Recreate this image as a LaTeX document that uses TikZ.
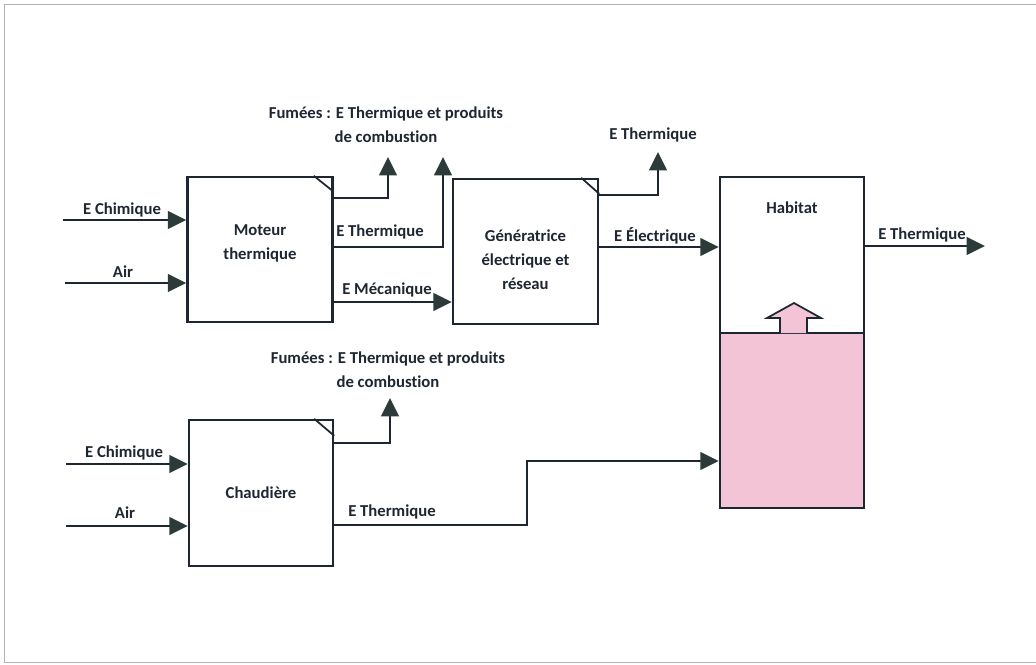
\documentclass[tikz,border=0pt]{standalone}
\usepackage{fontspec}
\setmainfont{Carlito}[Ligatures=NoCommon]
\usetikzlibrary{arrows.meta,calc}
\definecolor{ln}{HTML}{1E2632}
\definecolor{ah}{HTML}{2C3A3A}
\definecolor{pk}{HTML}{F2C4D6}
\definecolor{fr}{HTML}{B4B4B4}
\tikzset{
 box/.style={draw=ln, line width=1.4pt, minimum width=2.9cm, minimum height=2.9cm, inner sep=0pt},
 arr/.style={draw=ln, line width=1.4pt, -{Triangle[length=10.5pt,width=10pt,fill=ah,color=ah]}},
 lbl/.style={font=\bfseries\fontsize{9.5}{13.6}\selectfont, inner sep=0pt, text=ln, align=center},
 fold/.style={draw=ln, line width=1pt},
}
\begin{document}
\begin{tikzpicture}[x=0.02cm,y=-0.02cm]
\useasboundingbox (0,0) rectangle (1036,664);
\draw[fr, line width=0.5pt] (1036,4) -- (4,4) -- (4,662) -- (1036,662);

% boxes
\node[box] (mot) at (260,249.5) {};
\node[box] (gen) at (525.5,251.5) {};
\node[box, minimum width=2.88cm, minimum height=2.92cm] (ch) at (261,493) {};
\node[box, fill=pk, minimum width=2.88cm, minimum height=3.5cm] (hb) at (792,420.5) {};
\node[box, minimum width=2.88cm, minimum height=3.12cm] (hab) at (792,255) {};

% folded corners
\draw[fold] ($(mot.north east)+(-20,0)$) -- ($(mot.north east)+(0,16)$);
\draw[fold] ($(gen.north east)+(-18,0)$) -- ($(gen.north east)+(0,16)$);
\draw[fold] ($(ch.north east)+(-20,0)$) -- ($(ch.north east)+(0,17)$);

% box texts
\node[lbl] (motT) at (260,243.5) {Moteur\\thermique};
\node[lbl] (genT) at (525.5,260) {Génératrice\\électrique et\\réseau};
\node[lbl] (chT) at (ch.center) {Chaudière};
\node[lbl] (habT) at (792,208) {Habitat};

% up block arrow
\draw[ln, fill=pk, line width=1pt] (780,333) -- (780,318) -- (767,318) -- (794,303) -- (821,318) -- (807,318) -- (807,333);

% free ends
\coordinate (ci1) at (63,220);
\coordinate (ai1) at (65,283);
\coordinate (ci2) at (66,464);
\coordinate (ai2) at (66,526);
\coordinate (s1) at (388,157);
\coordinate (s2) at (443,157);
\coordinate (s3) at (658,152);
\coordinate (s4) at (390,398);
\coordinate (o1) at (985,246);

% connectors
\draw[arr] (ci1) -- (mot.west |- ci1);
\draw[arr] (ai1) -- (mot.west |- ai1);
\draw[arr] (mot.east |- 0,198) -| (s1);
\draw[arr] (mot.east |- 0,247) -| (s2);
\draw[arr] (mot.east |- 0,302) -- (gen.west |- 0,302);
\draw[arr] (gen.east |- 0,195) -| (s3);
\draw[arr] (gen.east |- 0,247) -- (hab.west |- 0,247);
\draw[arr] (hab.east |- 0,246) -- (o1);
\draw[arr] (ci2) -- (ch.west |- ci2);
\draw[arr] (ai2) -- (ch.west |- ai2);
\draw[arr] (ch.east |- 0,443) -| (s4);
\draw[arr] (ch.east |- 0,525) -- (527,525) -- (527,461) -- (hb.west |- 0,461);

% labels
\node[lbl] (l1) at (122,210) {E Chimique};
\node[lbl] (l2) at (123,272) {Air};
\node[lbl] (l3) at (124,453) {E Chimique};
\node[lbl] (l4) at (125,513) {Air};
\node[lbl] (l5) at (380,232) {E Thermique};
\node[lbl] (l6) at (387,290) {E Mécanique};
\node[lbl] (l7) at (386,125) {Fumées : E Thermique et produits\\de combustion};
\node[lbl] (l8) at (653,135) {E Thermique};
\node[lbl] (l9) at (655,236) {E Électrique};
\node[lbl] (l10) at (922,235) {E Thermique};
\node[lbl] (l11) at (388,370) {Fumées : E Thermique et produits\\de combustion};
\node[lbl] (l12) at (392,512) {E Thermique};
\end{tikzpicture}
\end{document}
